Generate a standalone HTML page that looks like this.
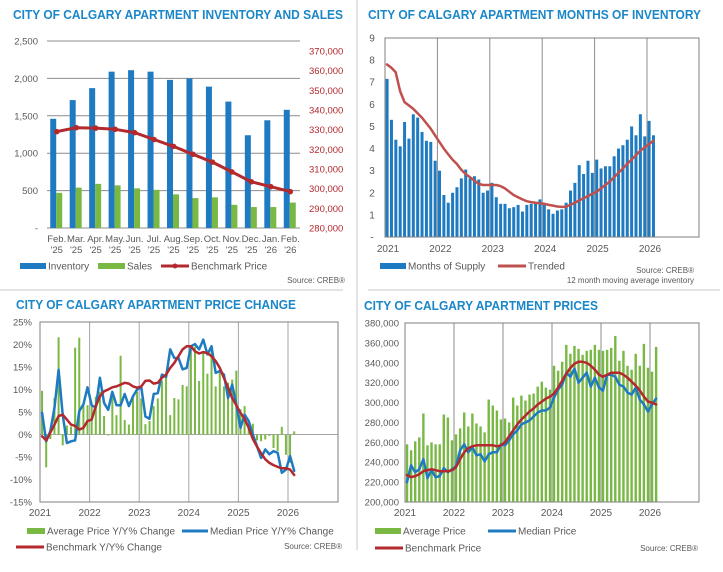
<!DOCTYPE html>
<html><head><meta charset="utf-8"><style>
html,body{margin:0;padding:0;background:#fff}
svg{display:block;font-family:"Liberation Sans",Arial,sans-serif}
</style></head><body>
<svg id="root" width="723" height="572" viewBox="0 0 723 572" xmlns="http://www.w3.org/2000/svg">
<rect width="723" height="572" fill="#fff"/>
<line x1="357" y1="0" x2="357" y2="550" stroke="#c8c8c8" stroke-width="1"/>
<line x1="0" y1="290" x2="343" y2="290" stroke="#c8c8c8"/>
<line x1="368" y1="290" x2="720" y2="290" stroke="#c8c8c8"/>
<g id="p1"></g>
<g id="p2"></g>
<g id="p3"></g>
<g id="p4"></g>
</svg>
<script>
// ---- Panel 1 data
const p1Categories = ["Feb.|'25","Mar.|'25","Apr.|'25","May.|'25","Jun.|'25","Jul.|'25","Aug.|'25","Sep.|'25","Oct.|'25","Nov.|'25","Dec.|'25","Jan.|'26","Feb.|'26"];
const p1Inventory = [1460,1710,1870,2090,2110,2090,1980,2000,1890,1690,1240,1440,1580];
const p1Sales = [470,540,590,570,530,510,450,400,410,310,280,280,340];
const p1Benchmark = [329000,331000,330800,330200,328500,325000,321500,317500,313500,308500,303500,301000,298500];
const p1LeftTicks = [0,500,1000,1500,2000,2500];
const p1RightTicks = [280000,290000,300000,310000,320000,330000,340000,350000,360000,370000];
// ---- Panel 2 data (Jan 2021 - Feb 2026)
const p2Supply = [7.15,5.3,4.4,4.1,5.2,4.45,5.55,5.4,4.75,4.35,4.3,3.45,
 3.0,1.9,1.55,2.0,2.25,2.65,3.05,2.65,2.75,2.6,2.0,2.1,
 2.45,1.8,1.5,1.5,1.3,1.35,1.45,1.15,1.45,1.5,1.55,1.7,
 1.5,1.25,1.05,1.2,1.25,1.55,2.1,2.45,3.25,2.85,3.45,2.9,
 3.5,3.1,3.2,3.2,3.65,4.0,4.15,4.4,5.0,4.6,5.55,4.55,
 5.25,4.6];
const p2Trend = [7.8,7.65,7.45,6.6,6.1,5.95,5.8,5.6,5.4,5.15,4.9,4.6,
 4.3,4.0,3.75,3.5,3.3,3.05,2.85,2.7,2.55,2.4,2.35,2.35,
 2.35,2.35,2.3,2.2,2.05,1.9,1.8,1.7,1.62,1.58,1.55,1.52,
 1.5,1.45,1.42,1.38,1.36,1.37,1.45,1.55,1.65,1.75,1.85,1.95,
 2.05,2.2,2.35,2.5,2.7,2.9,3.1,3.3,3.5,3.7,3.9,4.05,
 4.2,4.35];
const p2Ticks = [0,1,2,3,4,5,6,7,8,9];
const yearLabels = ["2021","2022","2023","2024","2025","2026"];
// ---- Panel 3 data
const p3Average = [9.7,-7.3,-1.0,8.1,21.6,-2.4,2.0,1.8,19.3,21.5,6.7,6.5,
 6.6,8.4,9.5,4.1,-0.2,9.0,4.3,17.5,3.2,2.2,8.1,9.5,
 8.0,2.3,3.0,6.3,8.0,12.0,13.7,4.3,8.1,7.8,11.0,10.7,
 19.3,19.5,11.9,18.5,13.5,19.0,10.7,13.7,10.7,11.5,12.2,14.2,
 5.6,6.3,1.9,2.4,-1.3,-1.5,-1.1,-0.3,-3.0,-3.7,1.7,-4.5,
 -6.3,0.7];
const p3Median = [4.8,-1.5,0.7,6.0,14.4,4.4,-1.9,-1.5,-1.3,5.2,6.7,10.5,
 6.5,6.0,12.6,7.0,5.5,9.5,6.5,6.5,9.0,6.3,8.5,10.0,
 10.5,4.0,3.5,9.0,9.2,13.3,12.8,18.9,17.0,17.0,14.5,14.8,
 19.6,20.1,18.9,21.1,17.8,19.6,13.7,14.1,13.3,8.1,11.1,6.7,
 1.5,4.4,3.0,0.0,-2.6,-5.2,-3.3,-4.4,-3.7,-4.1,-8.5,-7.8,
 -4.8,-8.1];
const p3Benchmark = [-0.4,-1.3,0.4,2.2,4.1,4.4,3.3,2.2,1.9,1.1,1.5,3.0,
 3.3,6.3,8.5,9.6,10.0,10.5,10.7,11.1,11.5,11.3,10.7,10.4,
 10.7,11.9,12.0,11.3,11.5,12.6,13.3,14.8,15.9,17.4,18.9,19.6,
 19.6,18.5,18.0,18.3,18.1,17.4,16.3,14.8,12.6,10.4,8.1,6.5,
 4.8,3.5,1.5,-1.0,-2.7,-4.2,-5.5,-6.3,-6.8,-7.2,-7.5,-7.5,
 -7.8,-9.0];
const p3Ticks = [-15,-10,-5,0,5,10,15,20,25];
// ---- Panel 4 data (thousands)
const p4Average = [258,252,261,265,289,257,260,258,258,288,285,262,
 268,274,290,276,289,279,276,270,303,297,292,283,
 284,280,305,297,307,302,308,309,316,321,315,313,
 337,332,341,358,349,357,354,348,352,353,358,353,
 352,353,355,367,342,352,337,333,349,337,359,335,
 331,356];
const p4Median = [220,237,230,233,243,224,232,225,226,234,230,233,
 236,252,258,250,255,247,248,241,248,250,250,258,
 257,262,268,272,278,280,282,286,290,292,292,295,
 305,313,318,330,326,334,320,325,330,316,325,315,
 312,328,328,326,318,316,310,308,315,303,298,291,
 298,304];
const p4Benchmark = [227,225,226,228,231,232,233,232,231,231,231,232,
 235,243,250,254,256,257,257,257,257,257,256,257,
 260,266,272,278,283,287,291,294,298,301,304,306,
 309,315,322,329,335,339,341,341,340,337,333,328,
 326,328,330,330,330,328,325,321,317,312,306,301,
 300,298];
const p4Ticks = [200,220,240,260,280,300,320,340,360,380];

const NS="http://www.w3.org/2000/svg";
const BLUE="#1f7bc1", GREEN="#78b843", RED="#b3292e", GRAY="#595959", GRID="#8c8c8c", TITLE="#1b87c9";
function el(tag, attrs, parent){const e=document.createElementNS(NS,tag);for(const k in attrs)e.setAttribute(k,attrs[k]);parent.appendChild(e);return e;}
function txt(parent,x,y,s,size,fill,anchor){const t=el("text",{x:x,y:y,"font-size":size,fill:fill,"text-anchor":anchor||"start"},parent);t.textContent=s;return t;}
function fmt(n){return n.toString().replace(/\B(?=(\d{3})+(?!\d))/g,",");}
function title(parent,x,y,w,s){const t=el("text",{x:x,y:y,"font-size":13,"font-weight":"bold",fill:TITLE,textLength:w,lengthAdjust:"spacingAndGlyphs"},parent);t.textContent=s;

}
function polyline(parent,pts,color,w){const p=el("polyline",{points:pts.map(p=>p[0].toFixed(1)+","+p[1].toFixed(1)).join(" "),fill:"none",stroke:color,"stroke-width":w,"stroke-linejoin":"round","stroke-linecap":"round"},parent);return p;}
function legendBox(parent,x,y,w,color,label){const r=el("rect",{x:x,y:y-3,width:w,height:6,fill:color},parent);


const t=txt(parent,x+w+2,y+3.5,label,10,GRAY);

}
function legendLine(parent,x,y,w,color,label,dot){const l=el("line",{x1:x,y1:y,x2:x+w,y2:y,stroke:color,"stroke-width":3},parent);


if(dot){el("circle",{cx:x+w/2,cy:y,r:2.5,fill:color},parent);}
const t=txt(parent,x+w+2,y+3.5,label,10,GRAY);

}

// ================= PANEL 1
(function(){
 const g=document.getElementById("p1");
 title(g,13,19,330,"CITY OF CALGARY APARTMENT INVENTORY AND SALES");
 const x0=47,x1=300,yB=228,yT=41;
 const yL=v=>yB-(v/2500)*(yB-yT);
 const yR=v=>228-(v-280000)/90000*(228-51);
 const band=(x1-x0)/p1Categories.length;
 const xc=i=>x0+band*(i+0.5);
 p1LeftTicks.forEach(v=>{
  const l=el("line",{x1:x0,y1:yL(v),x2:x1,y2:yL(v),stroke:GRID,"stroke-width":1},g);
  
  
  const t=txt(g,38,yL(v)+3.5,v===0?"-":fmt(v),9.5,GRAY,"end");
  
  
 });
 p1RightTicks.forEach(v=>{
  const t=txt(g,309,yR(v)+3.5,fmt(v),9.5,RED);
  
  
 });
 p1Inventory.forEach((v,i)=>{
  const r=el("rect",{x:xc(i)-6.5,y:yL(v),width:6,height:yB-yL(v),fill:BLUE},g);
  
  
 });
 p1Sales.forEach((v,i)=>{
  const r=el("rect",{x:xc(i)-0.5,y:yL(v),width:6,height:yB-yL(v),fill:GREEN},g);
  
  
 });
 const pts=p1Benchmark.map((v,i)=>[xc(i),yR(v)]);
 const pl=polyline(g,pts,RED,3);
 
 
 pts.forEach(p=>{const c=el("circle",{cx:p[0],cy:p[1],r:2.8,fill:RED},g);
  
  });
 p1Categories.forEach((c,i)=>{
  const parts=c.split("|");
  const t=txt(g,xc(i),242,parts[0],9.5,GRAY,"middle");
  
  
  const t2=txt(g,xc(i),253,parts[1],9.5,GRAY,"middle");
  
  
 });
 legendBox(g,20,266,26,BLUE,"Inventory");
 legendBox(g,98,266,27,GREEN,"Sales");
 legendLine(g,161,266,28,RED,"Benchmark Price",true);
 const s=txt(g,345,283,"Source: CREB®",8,GRAY,"end");
 
 
})();

// ================= PANEL 2
(function(){
 const g=document.getElementById("p2");
 title(g,368,19,333,"CITY OF CALGARY APARTMENT MONTHS OF INVENTORY");
 const x0=385,x1=699,yB=237,yT=38;
 const yS=v=>yB-v/9*(yB-yT);
 const mw=52.4/12;
 const xm=i=>x0+mw*i;
 yearLabels.forEach((y,k)=>{
  const x=x0+52.4*k;
  if(k>0){const l=el("line",{x1:x,y1:yT,x2:x,y2:yB,stroke:GRID},g);
   
   }
  const t=txt(g,x+3,252,y,10,GRAY,"middle");
  
  
 });
 p2Ticks.forEach(v=>{const t=txt(g,372,yS(v)+3.5,v===0?"-":String(v),10,GRAY,"middle");
  
  });
 p2Supply.forEach((v,i)=>{
  const r=el("rect",{x:xm(i)+0.6,y:yS(v),width:3,height:yB-yS(v),fill:BLUE},g);
  
  
 });
 const pl=polyline(g,p2Trend.map((v,i)=>[xm(i)+2,yS(v)]),"#c0504d",2.5);
 
 
 const f=el("rect",{x:x0,y:yT,width:x1-x0,height:yB-yT,fill:"none",stroke:"#7f7f7f"},g);
 
 
 legendBox(g,380,266,26,BLUE,"Months of Supply");
 legendLine(g,498,266,28,"#c0504d","Trended",false);
 const s=txt(g,694,273,"Source: CREB®",8,GRAY,"end");
 
 
 const s2=txt(g,694,283,"12 month moving average inventory",8,GRAY,"end");
 
 
})();

// ================= PANEL 3
(function(){
 const g=document.getElementById("p3");
 title(g,16,309,280,"CITY OF CALGARY APARTMENT PRICE CHANGE");
 const x0=40,x1=338,yT=322,yB=502;
 const yP=v=>yT+(25-v)*(yB-yT)/40;
 const yr=49.6, mw=yr/12;
 const xm=i=>x0+mw*(i+0.5);
 yearLabels.forEach((y,k)=>{
  const x=x0+yr*k;
  if(k>0){const l=el("line",{x1:x,y1:yT,x2:x,y2:yB,stroke:"#a6a6a6"},g);
   
   }
  const t=txt(g,x,516,y,10,GRAY,"middle");
  
  
 });
 p3Ticks.forEach(v=>{const t=txt(g,32,yP(v)+3.5,v+"%",9.5,GRAY,"end");
  
  });
 const z=el("line",{x1:x0,y1:yP(0),x2:x1,y2:yP(0),stroke:"#a6a6a6"},g);
 
 
 p3Average.forEach((v,i)=>{
  const r=el("rect",{x:xm(i)-1,y:Math.min(yP(v),yP(0)),width:2,height:Math.abs(yP(v)-yP(0)),fill:GREEN},g);
  
  
 });
 const m=polyline(g,p3Median.map((v,i)=>[xm(i),yP(v)]),BLUE,2.5);
 
 
 const b=polyline(g,p3Benchmark.map((v,i)=>[xm(i),yP(v)]),RED,2.5);
 
 
 const f=el("rect",{x:x0,y:yT,width:x1-x0,height:yB-yT,fill:"none",stroke:"#7f7f7f"},g);
 
 
 legendBox(g,27,531,18,GREEN,"Average Price Y/Y% Change");
 legendLine(g,182,531,26,BLUE,"Median Price Y/Y% Change",false);
 legendLine(g,16,547,28,RED,"Benchmark Y/Y% Change",false);
 const s=txt(g,342,549,"Source: CREB®",8,GRAY,"end");
 
 
})();

// ================= PANEL 4
(function(){
 const g=document.getElementById("p4");
 title(g,364,310,234,"CITY OF CALGARY APARTMENT PRICES");
 const x0=405,x1=699,yT=323,yB=502;
 const yV=v=>yB-(v-200)/180*(yB-yT);
 const yr=49, mw=yr/12;
 const xm=i=>x0+mw*(i+0.5);
 yearLabels.forEach((y,k)=>{
  const x=x0+yr*k;
  if(k>0){const l=el("line",{x1:x,y1:yT,x2:x,y2:yB,stroke:GRID},g);
   
   }
  const t=txt(g,x,516,y,10,GRAY,"middle");
  
  
 });
 p4Ticks.forEach(v=>{const t=txt(g,399,yV(v)+3.5,fmt(v*1000),9.5,GRAY,"end");
  
  });
 p4Average.forEach((v,i)=>{
  const r=el("rect",{x:xm(i)-1.2,y:yV(v),width:2.4,height:yB-yV(v),fill:GREEN},g);
  
  
 });
 const m=polyline(g,p4Median.map((v,i)=>[xm(i),yV(v)]),BLUE,2.5);
 
 
 const b=polyline(g,p4Benchmark.map((v,i)=>[xm(i),yV(v)]),RED,2.5);
 
 
 const f=el("rect",{x:x0,y:yT,width:x1-x0,height:yB-yT,fill:"none",stroke:"#7f7f7f"},g);
 
 
 legendBox(g,375,531,26,GREEN,"Average Price");
 legendLine(g,488,531,28,BLUE,"Median Price",false);
 legendLine(g,375,548,28,RED,"Benchmark Price",false);
 const s=txt(g,698,551,"Source: CREB®",8,GRAY,"end");
 
 
})();
</script>
</body></html>
